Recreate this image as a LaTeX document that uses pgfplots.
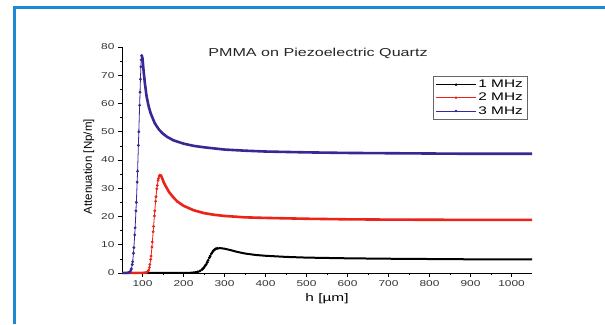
\documentclass[border=0pt]{standalone}
\usepackage{pgfplots}
\pgfplotsset{compat=1.18}
\usepackage{fontspec}
\setmainfont{Liberation Sans}[FakeStretch=1.4]
\newfontfamily\ylabfont{Liberation Sans}
\definecolor{frameblue}{RGB}{30,136,210}
\definecolor{cblue}{RGB}{55,40,150}
\definecolor{cred}{RGB}{235,35,25}
\begin{document}
\begin{tikzpicture}
\useasboundingbox (0,0) rectangle (605pt,324pt);
\fill[white] (0,0) rectangle (605pt,324pt);
\draw[frameblue, line width=3pt] (14.5pt,0) -- (14.5pt,316.5pt) -- (605pt,316.5pt);
\begin{axis}[
  at={(122pt,51pt)}, anchor=south west,
  scale only axis, width=410pt, height=226pt,
  xmin=50, xmax=1050, ymin=0, ymax=80,
  axis lines=left, axis line style={-, line width=0.6pt},
  xtick={100,200,...,1000}, ytick={0,10,...,80},
  minor x tick num=1, minor y tick num=1,
  tick align=outside, major tick length=4pt, minor tick length=2.5pt,
  tick style={line width=0.6pt, black},
  /pgf/number format/assume math mode=true,
  /pgf/number format/1000 sep={},
  ticklabel style={font=\fontsize{8.5}{10}\selectfont, text=black!80},
  xlabel={h [µm]}, xlabel style={font=\fontsize{11}{13}\selectfont, yshift=0pt},
  ylabel={Attenuation [Np/m]}, ylabel style={font=\ylabfont\fontsize{11.5}{13}\selectfont, at={(ticklabel cs:0.47)}},
  legend style={at={(0.988,0.872)}, anchor=north east, draw=black!60, font=\fontsize{11}{12}\selectfont, inner sep=2pt, row sep=0pt},
  legend cell align=left,
  legend image code/.code={\draw[mark repeat=2,mark phase=2,#1,line width=0.7pt] plot coordinates {(0pt,0pt)(20pt,0pt)(40pt,0pt)};},
  clip=false,
]
% legend entries
\addlegendimage{black, mark=*, mark size=0.9pt}
\addlegendentry{1 MHz}
\addlegendimage{cred, mark=*, mark size=0.9pt}
\addlegendentry{2 MHz}
\addlegendimage{cblue, mark=*, mark size=0.9pt}
\addlegendentry{3 MHz}
% 1 MHz
\addplot[black, line width=2pt, no marks, forget plot] coordinates {
(50,0)(100,0)(150,0)(200,0)(220,0.1)(235,0.4)};
\addplot[black, line width=0.8pt, mark=*, mark size=1pt, forget plot] coordinates {
(235,0.4)(240,0.7)(245,1.2)(248,1.6)(250,2)(253,2.6)(255,3)(258,3.8)(260,4.5)(263,5.4)(265,6)(268,6.8)(270,7.3)(273,7.9)(275,8.2)(278,8.5)(282,8.7)};
\addplot[black, line width=2pt, no marks, forget plot] coordinates {
(282,8.7)(290,8.8)(300,8.6)(315,8.1)(330,7.5)(350,6.9)(375,6.4)(400,6.1)(450,5.7)(500,5.45)(600,5.2)(700,5.05)(800,4.95)(900,4.85)(1050,4.8)};
% 2 MHz
\addplot[cred, line width=2.4pt, no marks, forget plot] coordinates {
(50,0)(80,0)(100,0)(110,0.2)};
\addplot[cred, line width=0.8pt, mark=*, mark size=1pt, forget plot] coordinates {
(110,0.2)(113,0.6)(115,1)(117,2)(118,3)(120,4.8)(121,6)(123,9.2)(124,11)(126,14.6)(127,16.5)(129,20.2)(130,22)(132,25.4)(133,27)(135,29.8)(136,31)(138,32.8)(139,33.5)(141,34.3)(142,34.6)};
\addplot[cred, line width=2.6pt, no marks, forget plot] coordinates {
(142,34.6)(145,34.5)(148,33.6)(152,32)(158,30.4)(165,28.6)(175,26.8)(185,25.3)(200,23.8)(225,22.2)(250,21.2)(275,20.6)(300,20.2)(350,19.7)(400,19.5)(500,19.2)(600,19.0)(700,18.9)(800,18.85)(900,18.8)(1050,18.8)};
% 3 MHz
\addplot[cblue, line width=2.4pt, no marks, forget plot] coordinates {
(50,0)(60,0)(65,0.1)(68,0.3)};
\addplot[cblue, line width=0.8pt, mark=*, mark size=1pt, forget plot] coordinates {
(68,0.3)(70,0.5)(72,1.1)(73,1.5)(75,3)(76,4)(78,7)(79,9)(81,13.5)(82,16)(84,22)(85,25)(87,32.2)(88,36)(90,45.2)(91,50)(93,59.4)(94,64)(95,68.6)(96,73)(97,75.5)(98,77)};
\addplot[cblue, line width=2.6pt, no marks, forget plot] coordinates {
(98,77)(100,76)(103,71)(106,67)(110,62.5)(115,59)(120,56.5)(130,53)(140,50.8)(150,49.3)(160,48.2)(175,47)(200,45.8)(225,45)(250,44.5)(300,43.7)(350,43.3)(400,43)(500,42.7)(600,42.5)(700,42.4)(800,42.3)(900,42.2)(1050,42.2)};
\node[font=\fontsize{11.5}{13}\selectfont, text=black!85] at (axis cs:528,77.6) {PMMA on Piezoelectric Quartz};
\end{axis}
\end{tikzpicture}
\end{document}
